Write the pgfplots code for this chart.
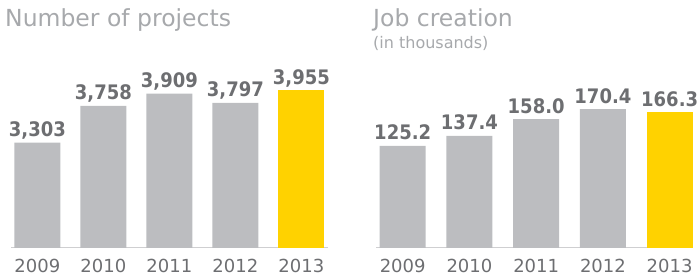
\documentclass[border=0pt]{standalone}
\usepackage{fontspec}
\setmainfont{DejaVu Sans}
\newfontfamily\numfont[FakeStretch=0.9]{DejaVu Sans}
\usepackage{pgfplots}
\pgfplotsset{compat=1.18}
\definecolor{bargray}{HTML}{BCBDC0}
\definecolor{eyyellow}{HTML}{FFD200}
\definecolor{txtgray}{HTML}{6D6E71}
\definecolor{titlegray}{HTML}{A7A9AC}
\definecolor{linegray}{HTML}{CFCFD1}
\pgfplotsset{
  myaxis/.style={
    scale only axis, anchor=south west, clip=false,
    axis x line*=bottom, axis y line=none,
    x axis line style={-, draw=linegray, line width=1pt},
    xtick={0,1,2,3,4}, xticklabels={2009,2010,2011,2012,2013},
    major tick length=0pt,
    xticklabel style={font=\fontsize{18}{18}\selectfont, text=txtgray, anchor=base, yshift=-25pt},
    ybar, bar width=46pt, bar shift=0pt,
    nodes near coords, point meta=explicit symbolic,
    every node near coord/.append style={font=\numfont\fontsize{20}{20}\selectfont\bfseries, text=txtgray, anchor=base, yshift=6pt},
    xmin=-0.4, xmax=4.4,
  }
}
\begin{document}
\begin{tikzpicture}[x=1pt,y=1pt]
\path[use as bounding box] (0,0) rectangle (699,280);
\begin{axis}[myaxis, at={(11pt,32pt)}, width=316.8pt, height=161.6pt, ymin=2000, ymax=4000]
\addplot[fill=bargray, draw=none] coordinates {(0,3303) [3,303] (1,3758) [3,758] (2,3909) [3,909] (3,3797) [3,797]};
\addplot[fill=eyyellow, draw=none] coordinates {(4,3955) [3,955]};
\end{axis}
\begin{axis}[myaxis, at={(376pt,32pt)}, width=317pt, height=163.1pt, ymin=0, ymax=200, xmax=4.35]
\addplot[fill=bargray, draw=none] coordinates {(0,125.2) [125.2] (1,137.4) [137.4] (2,158.0) [158.0] (3,170.4) [170.4]};
\addplot[fill=eyyellow, draw=none] coordinates {(4,166.3) [166.3]};
\end{axis}
\node[anchor=base west, font=\fontsize{23.5}{24}\selectfont, text=titlegray, inner sep=0pt] at (5,253) {Number of projects};
\node[anchor=base west, font=\fontsize{23.5}{24}\selectfont, text=titlegray, inner sep=0pt] at (373,253) {Job creation};
\node[anchor=base west, font=\fontsize{16}{16}\selectfont, text=titlegray, inner sep=0pt] at (373,231) {(in thousands)};
\end{tikzpicture}
\end{document}
